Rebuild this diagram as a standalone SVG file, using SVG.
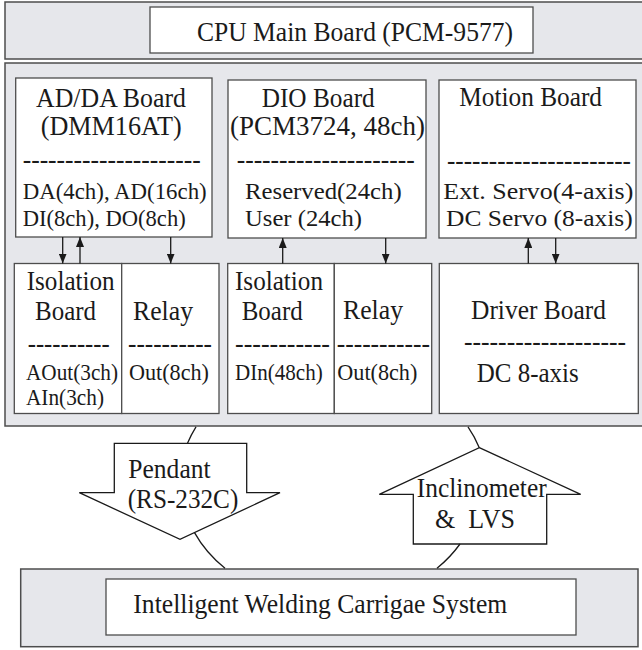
<svg xmlns="http://www.w3.org/2000/svg" width="642" height="650" viewBox="0 0 642 650" font-family="'Liberation Serif', serif">
<style>
.band{fill:#e6e7eb;stroke:#4d4d4d;stroke-width:1.5}
.box{fill:#fff;stroke:#4d4d4d;stroke-width:1.3}
text{font-family:'Liberation Serif',serif;fill:#1a1a1a;font-size:26.5px}
.s{font-size:23.5px}
.m{font-size:24px}
.con{fill:none;stroke:#1a1a1a;stroke-width:1.3}
.big{fill:#fff;stroke:#1a1a1a;stroke-width:1.3}
</style>
<defs>
<marker id="ah" markerWidth="10" markerHeight="8" refX="10" refY="4" orient="auto" markerUnits="userSpaceOnUse"><path d="M0,0 L10,4 L0,8 z" fill="#1a1a1a"/></marker>
</defs>

<g id="cpu">
<rect class="band" x="5" y="2" width="645" height="57"/>
<rect class="box" x="150" y="7" width="383" height="46"/>
<text x="197" y="41" textLength="316" lengthAdjust="spacingAndGlyphs">CPU Main Board (PCM-9577)</text>
</g>

<g id="controller">
<rect class="band" x="5" y="63" width="645" height="363"/>
</g>

<g id="adda">
<rect class="box" x="15.7" y="78" width="196.3" height="159"/>
<text x="36" y="107" textLength="150" lengthAdjust="spacingAndGlyphs">AD/DA Board</text>
<text x="40.7" y="135" textLength="141" lengthAdjust="spacingAndGlyphs">(DMM16AT)</text>
<text x="22.7" y="168" textLength="178" lengthAdjust="spacingAndGlyphs">---------------------</text>
<text class="m" x="22.7" y="199" textLength="184" lengthAdjust="spacingAndGlyphs">DA(4ch), AD(16ch)</text>
<text class="m" x="22.7" y="226" textLength="163" lengthAdjust="spacingAndGlyphs">DI(8ch), DO(8ch)</text>
</g>

<g id="dio">
<rect class="box" x="228" y="80" width="198" height="158"/>
<text x="261.7" y="107" textLength="113" lengthAdjust="spacingAndGlyphs">DIO Board</text>
<text x="230" y="135" textLength="195" lengthAdjust="spacingAndGlyphs">(PCM3724, 48ch)</text>
<text x="236.7" y="168" textLength="178" lengthAdjust="spacingAndGlyphs">---------------------</text>
<text class="m" x="245" y="199" textLength="156.7" lengthAdjust="spacingAndGlyphs">Reserved(24ch)</text>
<text class="m" x="245" y="226" textLength="117" lengthAdjust="spacingAndGlyphs">User (24ch)</text>
</g>

<g id="motion">
<rect class="box" x="439" y="80" width="197" height="158"/>
<text x="459.3" y="106" textLength="142.7" lengthAdjust="spacingAndGlyphs">Motion Board</text>
<text x="447" y="169" textLength="184" lengthAdjust="spacingAndGlyphs">----------------------</text>
<text class="m" x="443.3" y="199" textLength="190" lengthAdjust="spacingAndGlyphs">Ext. Servo(4-axis)</text>
<text class="m" x="446" y="226" textLength="186.7" lengthAdjust="spacingAndGlyphs">DC Servo (8-axis)</text>
</g>

<g id="isolation1">
<rect class="box" x="14.3" y="263.5" width="107.4" height="150"/>
<text x="26.7" y="290" textLength="88" lengthAdjust="spacingAndGlyphs">Isolation</text>
<text x="35" y="320" textLength="61" lengthAdjust="spacingAndGlyphs">Board</text>
<text x="27.7" y="352" textLength="82" lengthAdjust="spacingAndGlyphs">----------</text>
<text class="s" x="26" y="380" textLength="92" lengthAdjust="spacingAndGlyphs">AOut(3ch)</text>
<text class="s" x="26" y="405" textLength="78" lengthAdjust="spacingAndGlyphs">AIn(3ch)</text>
</g>

<g id="relay1">
<rect class="box" x="121.7" y="263.5" width="97.3" height="150"/>
<text x="133" y="320" textLength="60" lengthAdjust="spacingAndGlyphs">Relay</text>
<text x="128" y="352" textLength="84" lengthAdjust="spacingAndGlyphs">----------</text>
<text class="s" x="129" y="380" textLength="80" lengthAdjust="spacingAndGlyphs">Out(8ch)</text>
</g>

<g id="isolation2">
<rect class="box" x="227.7" y="263.5" width="106.6" height="150"/>
<text x="235" y="290" textLength="88" lengthAdjust="spacingAndGlyphs">Isolation</text>
<text x="241.7" y="320" textLength="61" lengthAdjust="spacingAndGlyphs">Board</text>
<text x="235" y="352" textLength="95" lengthAdjust="spacingAndGlyphs">-----------</text>
<text class="s" x="235" y="380" textLength="87.7" lengthAdjust="spacingAndGlyphs">DIn(48ch)</text>
</g>

<g id="relay2">
<rect class="box" x="334.3" y="263.5" width="97.4" height="150"/>
<text x="343" y="319" textLength="60" lengthAdjust="spacingAndGlyphs">Relay</text>
<text x="336.7" y="352" textLength="93.3" lengthAdjust="spacingAndGlyphs">-----------</text>
<text class="s" x="337.3" y="380" textLength="80" lengthAdjust="spacingAndGlyphs">Out(8ch)</text>
</g>

<g id="driver">
<rect class="box" x="439.3" y="263.5" width="199" height="150"/>
<text x="471" y="319" textLength="135" lengthAdjust="spacingAndGlyphs">Driver Board</text>
<text x="464" y="350" textLength="162" lengthAdjust="spacingAndGlyphs">-------------------</text>
<text x="476.7" y="381.7" textLength="102" lengthAdjust="spacingAndGlyphs">DC 8-axis</text>
</g>

<g id="carriage">
<rect class="band" x="20.7" y="569" width="617.3" height="77.7"/>
<rect class="box" x="106" y="579" width="470" height="56"/>
<text x="133.3" y="613.3" textLength="374" lengthAdjust="spacingAndGlyphs">Intelligent Welding Carrigae System</text>
</g>

<g id="pendant">
<polygon class="big" points="114.3,443.3 246.7,443.3 246.7,492.7 280,492.7 180,539.3 79.3,492.7 114.3,492.7"/>
<text x="128.3" y="478" textLength="82.3" lengthAdjust="spacingAndGlyphs">Pendant</text>
<text x="127.7" y="508" textLength="110.6" lengthAdjust="spacingAndGlyphs">(RS-232C)</text>
</g>

<g id="inclinometer">
<polygon class="big" points="479.3,447.7 580.7,494.3 546.7,494.3 546.7,544 413.3,544 413.3,494.3 379.3,494.3"/>
<text x="416.7" y="496.7" textLength="130" lengthAdjust="spacingAndGlyphs">Inclinometer</text>
<text x="435" y="528.3" textLength="80" lengthAdjust="spacingAndGlyphs" xml:space="preserve">&amp;  LVS</text>
</g>

<g id="connectors">
<path class="con" d="M62.7,237 L62.7,263.5" marker-end="url(#ah)"/>
<path class="con" d="M80,263.5 L80,237" marker-end="url(#ah)"/>
<path class="con" d="M170.7,237 L170.7,263.5" marker-end="url(#ah)"/>
<path class="con" d="M282.7,263.5 L282.7,238" marker-end="url(#ah)"/>
<path class="con" d="M385.7,238 L385.7,263.5" marker-end="url(#ah)"/>
<path class="con" d="M528.3,263.5 L528.3,238" marker-end="url(#ah)"/>
<path class="con" d="M555.7,238 L555.7,263.5" marker-end="url(#ah)"/>
<path class="con" d="M196,426.8 A153,121 0 0 0 187.5,443.3"/>
<path class="con" d="M194.5,532.6 A153,121 0 0 0 225,568.3"/>
<path class="con" d="M468,426.8 A153,121 0 0 1 479.3,447.7"/>
<path class="con" d="M460,544 A153,121 0 0 1 437,568.3"/>
</g>
</svg>
